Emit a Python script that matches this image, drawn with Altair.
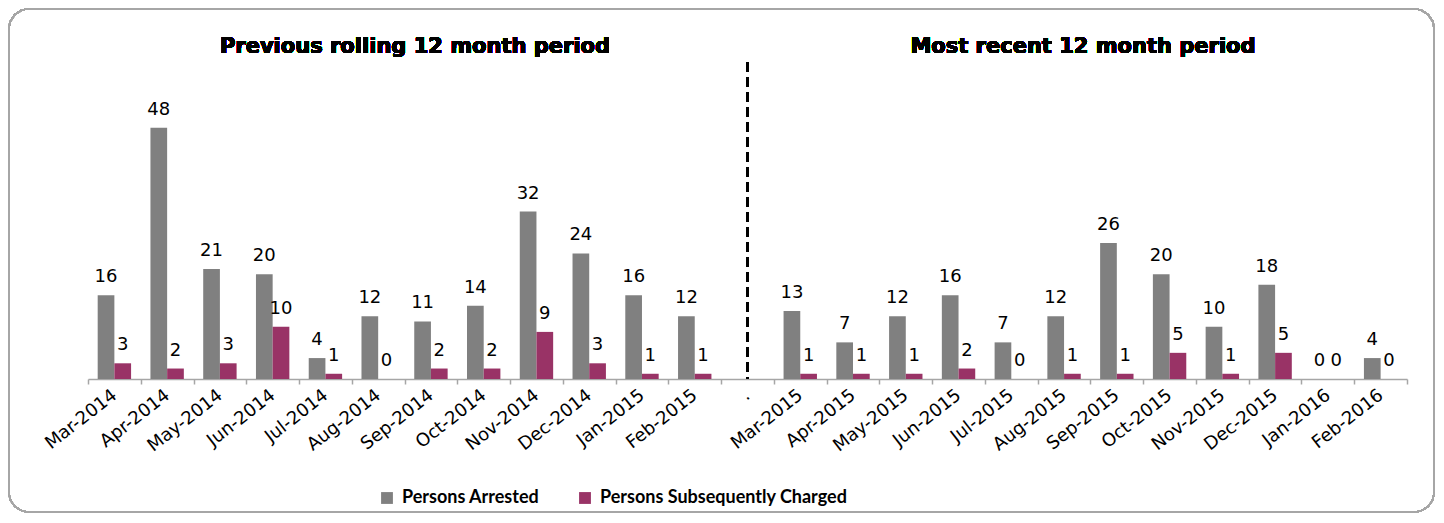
import altair as alt
import pandas as pd

months_prev = ["Mar-2014", "Apr-2014", "May-2014", "Jun-2014", "Jul-2014", "Aug-2014",
               "Sep-2014", "Oct-2014", "Nov-2014", "Dec-2014", "Jan-2015", "Feb-2015"]
separator = "."
months_recent = ["Mar-2015", "Apr-2015", "May-2015", "Jun-2015", "Jul-2015", "Aug-2015",
                 "Sep-2015", "Oct-2015", "Nov-2015", "Dec-2015", "Jan-2016", "Feb-2016"]

arrested_prev = [16, 48, 21, 20, 4, 12, 11, 14, 32, 24, 16, 12]
charged_prev = [3, 2, 3, 10, 1, 0, 2, 2, 9, 3, 1, 1]
arrested_recent = [13, 7, 12, 16, 7, 12, 26, 20, 10, 18, 0, 4]
charged_recent = [1, 1, 1, 2, 0, 1, 1, 5, 1, 5, 0, 0]

series_names = ["Persons Arrested", "Persons Subsequently Charged"]
series_colors = ["#808080", "#993366"]
period_titles = ["Previous rolling 12 month period", "Most recent 12 month period"]

domain = months_prev + [separator] + months_recent

rows = []
for m, a, c in zip(months_prev + months_recent,
                   arrested_prev + arrested_recent,
                   charged_prev + charged_recent):
    rows.append({"month": m, "series": series_names[0], "value": a})
    rows.append({"month": m, "series": series_names[1], "value": c})
df = pd.DataFrame(rows)

W, H = 1319, 314

x_enc = alt.X("month:N", sort=domain,
              scale=alt.Scale(domain=domain, paddingInner=0, paddingOuter=0),
              axis=alt.Axis(title=None, labelAngle=-38, labelAlign="right",
                            labelBaseline="middle", tickBand="extent",
                            labelFont="DejaVu Sans", labelFontSize=18,
                            labelColor="#000000", labelPadding=9,
                            domainColor="#a6a6a6", tickColor="#a6a6a6",
                            tickSize=5, domainWidth=1.5, tickWidth=1.5,
                            grid=False, labelOverlap=False))
xo_enc = alt.XOffset("series:N", sort=series_names,
                     scale=alt.Scale(domain=series_names, paddingInner=0, paddingOuter=0.58))
y_enc = alt.Y("value:Q", scale=alt.Scale(domain=[0, 60]), axis=None)

bars = alt.Chart(df).mark_bar(strokeWidth=0).encode(
    x=x_enc, xOffset=xo_enc, y=y_enc,
    color=alt.Color("series:N",
                    scale=alt.Scale(domain=series_names, range=series_colors),
                    legend=alt.Legend(title=None, orient="none", direction="horizontal",
                                      legendX=290, legendY=424,
                                      symbolType="square", symbolSize=140,
                                      symbolStrokeWidth=0, labelFont="Lato",
                                      labelFontWeight="bold", labelFontSize=18,
                                      labelColor="#000000", columnPadding=36,
                                      labelOffset=6, labelLimit=400))
)

labels = alt.Chart(df).mark_text(baseline="bottom", dy=-9, font="DejaVu Sans",
                                 fontSize=18, color="#000000").encode(
    x=alt.X("month:N", sort=domain), xOffset=alt.XOffset("series:N", sort=series_names),
    y=alt.Y("value:Q"), text="value:Q"
)

divider = alt.Chart(df).mark_rule(color="#000000", strokeWidth=3, strokeDash=[10, 5]).encode(
    x=alt.datum(separator), y=alt.value(-3), y2=alt.value(H)
)

title_left = alt.Chart(df).mark_text(font="DejaVu Sans", fontWeight="bold", fontSize=21,
                                     color="#000000").encode(
    x=alt.value(327), y=alt.value(-18), text=alt.value(period_titles[0])
)
title_right = alt.Chart(df).mark_text(font="DejaVu Sans", fontWeight="bold", fontSize=21,
                                      color="#000000").encode(
    x=alt.value(995), y=alt.value(-18), text=alt.value(period_titles[1])
)

border = alt.Chart(df).mark_rect(fillOpacity=0, stroke="#a6a6a6", strokeWidth=1.5,
                                 cornerRadius=20).encode(
    x=alt.value(-79), x2=alt.value(1346), y=alt.value(-56), y2=alt.value(447)
)

chart = alt.layer(border, bars, labels, divider, title_left, title_right).properties(
    width=W, height=H, padding=0
).configure_view(stroke=None)

chart.save("out.html", embed_options={"renderer": "svg", "actions": False})
